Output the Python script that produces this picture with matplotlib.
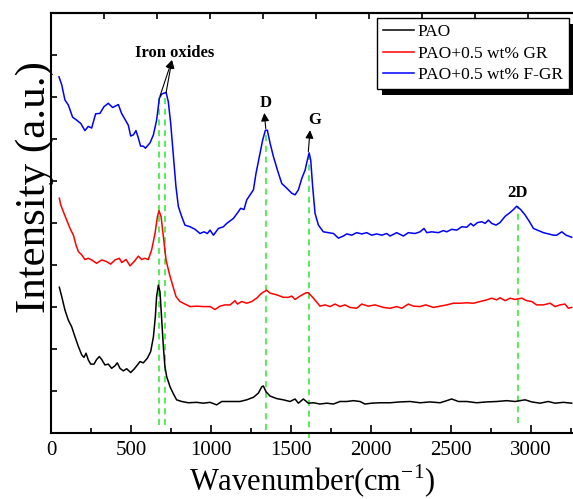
import matplotlib
matplotlib.use('Agg')
import matplotlib.pyplot as plt
from matplotlib.patches import Rectangle
from matplotlib.transforms import IdentityTransform

plt.rcParams['font.family'] = ['Liberation Serif', 'DejaVu Serif']
plt.rcParams['mathtext.fontset'] = 'custom'
plt.rcParams['mathtext.rm'] = 'Liberation Serif'

# values (intensity in arbitrary units, curves offset)
x_pao = [52, 67, 87, 108, 129, 150, 171, 192, 206, 219, 233, 248, 269, 285, 302, 317, 337, 358, 379, 400,
         414, 431, 452, 473, 498, 519, 540, 556, 577, 602, 623, 640, 652, 660, 671, 681, 692, 702, 712, 723,
         744, 765, 785, 817, 858, 910, 952, 994, 1035, 1067, 1119, 1181, 1223, 1265, 1296, 1317, 1327, 1344, 1369, 1410,
         1452, 1494, 1525, 1546, 1577, 1608, 1640, 1681, 1723, 1765, 1806, 1848, 1890, 1931, 1962, 2004, 2056, 2119, 2181, 2244,
         2306, 2369, 2431, 2473, 2504, 2546, 2598, 2660, 2723, 2785, 2848, 2900, 2963, 3004, 3056, 3108, 3150, 3202, 3254]
y_pao = [3.47, 3.25, 2.93, 2.69, 2.53, 2.29, 2.06, 1.86, 1.80, 1.90, 1.74, 1.64, 1.64, 1.75, 1.82, 1.75, 1.62, 1.64, 1.54, 1.60,
         1.67, 1.54, 1.48, 1.53, 1.44, 1.52, 1.62, 1.70, 1.67, 1.78, 1.94, 2.29, 2.77, 3.25, 3.52, 3.36, 2.69, 2.06, 1.58, 1.34,
         1.10, 0.93, 0.79, 0.75, 0.72, 0.73, 0.71, 0.73, 0.67, 0.75, 0.75, 0.75, 0.79, 0.85, 0.95, 1.10, 1.12, 0.98, 0.88, 0.82,
         0.79, 0.75, 0.81, 0.71, 0.81, 0.71, 0.72, 0.69, 0.71, 0.69, 0.75, 0.75, 0.77, 0.75, 0.69, 0.71, 0.72, 0.72, 0.74, 0.75,
         0.72, 0.74, 0.72, 0.77, 0.81, 0.75, 0.75, 0.72, 0.74, 0.75, 0.77, 0.75, 0.79, 0.74, 0.71, 0.75, 0.71, 0.73, 0.71]

x_gr = [52, 61, 77, 98, 119, 140, 156, 171, 192, 212, 233, 254, 285, 317, 348, 373, 400, 427, 442, 469,
        494, 519, 546, 567, 587, 608, 629, 650, 665, 675, 688, 702, 719, 739, 760, 781, 806, 837, 869, 911,
        952, 994, 1025, 1056, 1087, 1119, 1150, 1165, 1192, 1223, 1254, 1285, 1317, 1348, 1369, 1410, 1452, 1483, 1504, 1525,
        1556, 1594, 1608, 1640, 1681, 1712, 1744, 1775, 1806, 1837, 1869, 1910, 1942, 1983, 2025, 2077, 2119, 2160, 2192, 2233,
        2265, 2306, 2342, 2390, 2431, 2473, 2515, 2556, 2598, 2640, 2681, 2723, 2754, 2785, 2806, 2838, 2869, 2900, 2942, 2973,
        3004, 3035, 3077, 3119, 3150, 3181, 3212, 3233, 3254]
y_gr = [5.59, 5.43, 5.27, 5.07, 4.87, 4.71, 4.48, 4.32, 4.24, 4.13, 4.16, 4.12, 4.04, 4.12, 4.08, 4.02, 4.12, 4.16, 4.06, 4.13,
        3.98, 4.08, 4.21, 4.13, 4.16, 4.13, 4.36, 4.75, 5.15, 5.29, 5.15, 4.68, 4.12, 3.80, 3.52, 3.25, 3.13, 3.07, 3.01, 3.02,
        3.01, 3.01, 2.94, 3.02, 3.05, 3.05, 3.15, 3.07, 3.13, 3.09, 3.13, 3.21, 3.33, 3.40, 3.33, 3.29, 3.23, 3.23, 3.26, 3.18,
        3.26, 3.34, 3.34, 3.21, 3.02, 3.05, 3.01, 3.07, 3.01, 3.05, 2.99, 2.97, 3.07, 3.02, 3.05, 2.99, 2.97, 3.01, 2.97, 3.07,
        3.02, 3.01, 3.05, 2.99, 3.02, 3.05, 3.09, 3.09, 3.10, 3.09, 3.13, 3.17, 3.21, 3.17, 3.22, 3.15, 3.21, 3.18, 3.21, 3.15,
        3.13, 3.05, 3.05, 3.09, 3.01, 3.05, 3.07, 2.97, 2.99]

x_fgr = [50, 67, 87, 108, 135, 160, 186, 212, 233, 254, 279, 306, 331, 358, 385, 421, 441, 462, 483, 498,
         515, 531, 546, 560, 577, 590, 619, 640, 660, 677, 692, 706, 719, 733, 748, 765, 781, 796, 817, 837,
         869, 900, 931, 956, 977, 994, 1015, 1046, 1077, 1098, 1140, 1171, 1185, 1206, 1223, 1244, 1265, 1281, 1302, 1323,
         1340, 1352, 1369, 1390, 1415, 1442, 1473, 1504, 1525, 1546, 1567, 1588, 1602, 1613, 1623, 1635, 1650, 1671, 1702, 1733,
         1765, 1796, 1827, 1848, 1879, 1910, 1942, 1973, 2004, 2035, 2067, 2098, 2119, 2160, 2202, 2233, 2275, 2306, 2331, 2348,
         2379, 2421, 2452, 2473, 2504, 2535, 2567, 2598, 2623, 2640, 2665, 2692, 2713, 2733, 2754, 2781, 2806, 2838, 2869, 2890,
         2910, 2935, 2963, 2990, 3015, 3046, 3077, 3108, 3140, 3160, 3192, 3219, 3254]
y_fgr = [8.48, 8.29, 7.93, 7.81, 7.52, 7.45, 7.37, 7.20, 7.30, 7.26, 7.60, 7.61, 7.77, 7.85, 7.75, 7.82, 7.61, 7.47, 7.33, 7.07,
         7.10, 7.20, 7.02, 6.83, 6.83, 6.78, 6.91, 7.10, 7.45, 7.97, 8.07, 8.09, 8.11, 7.89, 7.37, 6.58, 5.86, 5.39, 5.15, 4.95,
         4.91, 4.85, 4.75, 4.79, 4.75, 4.83, 4.71, 4.87, 4.91, 4.99, 5.11, 5.27, 5.35, 5.32, 5.55, 5.67, 5.79, 6.18, 6.58, 6.98,
         7.21, 7.21, 6.90, 6.58, 6.26, 5.94, 5.83, 5.71, 5.67, 5.79, 6.06, 6.26, 6.50, 6.67, 6.50, 5.87, 5.23, 4.95, 4.79, 4.77,
         4.75, 4.64, 4.69, 4.74, 4.71, 4.77, 4.74, 4.77, 4.71, 4.74, 4.71, 4.75, 4.69, 4.77, 4.69, 4.77, 4.75, 4.79, 4.87, 4.77,
         4.79, 4.77, 4.82, 4.79, 4.85, 4.83, 4.91, 4.90, 4.99, 4.93, 5.01, 5.03, 4.99, 5.07, 4.99, 4.95, 5.01, 5.16, 5.25, 5.32,
         5.40, 5.32, 5.19, 5.03, 4.87, 4.82, 4.77, 4.74, 4.71, 4.71, 4.79, 4.71, 4.66]

labels = ['PAO', 'PAO+0.5 wt% GR', 'PAO+0.5 wt% F-GR']

# peak guide lines: position, top, bottom
peak_x = [677, 712, 1342, 1614, 2920]
peak_top = [8.02, 8.10, 7.20, 6.67, 5.40]
peak_bot = [0.19, 0.19, 0.07, -0.12, 0.24]

fig = plt.figure(figsize=(5.73, 4.99), dpi=100)
ax = fig.add_axes([51 / 573, 66 / 499, 522 / 573, 420 / 499])

ax.plot(x_pao, y_pao, color='black', lw=1.1, label=labels[0])
ax.plot(x_gr, y_gr, color='red', lw=1.1, label=labels[1])
ax.plot(x_fgr, y_fgr, color='blue', lw=1.1, label=labels[2])

for px, top, bot in zip(peak_x, peak_top, peak_bot):
    ax.plot([px, px], [bot, top], color='#2ee62e', lw=1.1, ls=(0, (4, 3)), clip_on=False, zorder=1)

arrow = dict(arrowstyle='-|>', color='black', lw=0.8, mutation_scale=12, shrinkA=0, shrinkB=0)
ax.annotate('', xy=(756, 8.88), xytext=(681, 8.02), arrowprops=arrow)
ax.annotate('', xy=(756, 8.88), xytext=(719, 8.10), arrowprops=arrow)
ax.annotate('', xy=(1333, 7.62), xytext=(1342, 7.25), arrowprops=arrow)
ax.annotate('', xy=(1619, 7.21), xytext=(1608, 6.70), arrowprops=arrow)

bold = dict(fontweight='bold', fontsize=12, ha='center', va='center')
ax.text(775, 9.05, 'Iron oxides', **bold)
ax.text(1342, 7.85, 'D', **bold)
ax.text(1650, 7.45, 'G', **bold)
ax.text(2917, 5.71, '2D', **bold)

ax.set_xlim(0, 3262)
ax.set_ylim(0, 10)
ax.set_xticks([0, 500, 1000, 1500, 2000, 2500, 3000])
ax.set_xticks([250, 750, 1250, 1750, 2250, 2750, 3250], minor=True)
ax.set_yticks(range(1, 10))
ax.set_yticklabels([])
ax.tick_params(axis='x', which='major', direction='in', length=6, width=1.2, labelsize=15, pad=6)
ax.tick_params(axis='x', which='minor', direction='in', length=3.5, width=1.2)
ax.tick_params(axis='y', direction='in', length=4, width=1.2)

top = ax.secondary_xaxis('top')
top.set_xticks([0, 331, 662, 993, 1324, 1655, 1986, 2317, 2648, 2979])
top.set_xticklabels([])
top.tick_params(direction='in', length=4, width=1.2)
top.spines['top'].set_linewidth(1.5)

ax.spines['right'].set_visible(False)
for s in ['left', 'bottom', 'top']:
    ax.spines[s].set_linewidth(1.5)

ax.set_xlabel('Wavenumber(cm$^{-1}$)', fontsize=22, labelpad=2)
ax.set_ylabel('Intensity (a.u.)', fontsize=31)
ax.yaxis.set_label_coords(0.006, 0.586)

leg = ax.legend(loc='upper right', bbox_to_anchor=(569 / 573, 481 / 499), bbox_transform=fig.transFigure,
                fontsize=12.5, frameon=True, fancybox=False, edgecolor='black', framealpha=1,
                borderpad=0.35, borderaxespad=0, handlelength=1.8, handletextpad=0.2, labelspacing=0.3)
leg.get_frame().set_linewidth(1.0)

fig.canvas.draw()
bb = leg.get_frame().get_window_extent()
shadow = Rectangle((bb.x0 + 5, bb.y0 - 6), bb.width, bb.height, transform=IdentityTransform(),
                   facecolor='black', edgecolor='none', zorder=4.9, clip_on=False)
ax.add_patch(shadow)

fig.savefig('out.png', dpi=100)
